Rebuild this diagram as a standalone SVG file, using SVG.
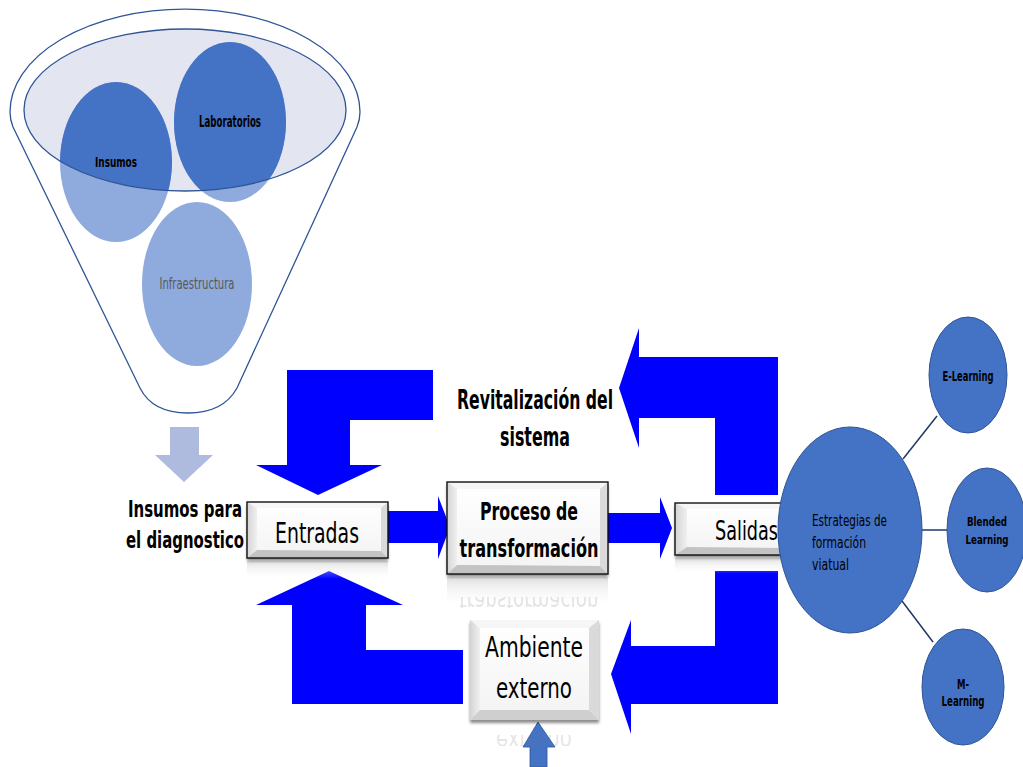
<svg xmlns="http://www.w3.org/2000/svg" width="1023" height="767" viewBox="0 0 1023 767">
  <style>
    .lbl { font-family: "Liberation Sans Narrow", "DejaVu Sans Condensed", "Liberation Sans", sans-serif; fill: #000; }
    .b { font-weight: bold; }
    .big { fill: #0000ff; }
    .dot { fill: #4472c4; stroke: #2f5597; stroke-width: 1; }
    .light { fill: #8faadc; }
    .dark { fill: #4472c4; }
    .bev-t { fill: #f6f6f6; }
    .bev-l { fill: url(#bevL); }
    .bev-r { fill: #dadada; }
    .bev-b { fill: #c3c3c3; }
    .face { fill: url(#face); }
    .edge { fill: none; stroke: #111; stroke-width: 1.4; }
    .refl { fill: url(#refl); }
    .link { stroke: #1f3864; stroke-width: 1.5; fill: none; }
  </style>
  <defs>
    <linearGradient id="bevL" x1="0" y1="0" x2="1" y2="0">
      <stop offset="0" stop-color="#d4d4d4"/>
      <stop offset="1" stop-color="#f0f0f0"/>
    </linearGradient>
    <linearGradient id="face" x1="0" y1="0" x2="0" y2="1">
      <stop offset="0" stop-color="#ffffff"/>
      <stop offset="1" stop-color="#f3f3f3"/>
    </linearGradient>
    <linearGradient id="refl" x1="0" y1="0" x2="0" y2="1">
      <stop offset="0" stop-color="#d0d0d0" stop-opacity="0.7"/>
      <stop offset="1" stop-color="#ffffff" stop-opacity="0"/>
    </linearGradient>
    <filter id="shadow" x="-10%" y="-10%" width="120%" height="130%">
      <feDropShadow dx="0" dy="3" stdDeviation="1.5" flood-color="#000" flood-opacity="0.45"/>
    </filter>
    <clipPath id="mouth">
      <ellipse cx="185" cy="110" rx="161" ry="81"/>
    </clipPath>
    <clipPath id="reflBand1"><rect x="447" y="597" width="161" height="11"/></clipPath>
    <clipPath id="reflBand2"><rect x="470" y="735" width="129" height="11"/></clipPath>
  </defs>

  <!-- Funnel with resources -->
  <g id="funnel">
    <path d="M10,112 A175,103 0 0 1 360,112 C360,118 359,122 357,127 L237,388 C226,408 206,413 188,413 C170,413 150,408 140,388 L13,127 C11,122 10,118 10,112 Z" fill="#fff" stroke="#2f5597" stroke-width="1.3"/>
    <ellipse cx="185" cy="110" rx="161" ry="81" fill="#e3e6f1"/>
    <ellipse class="light" cx="116" cy="162" rx="56" ry="80"/>
    <ellipse class="light" cx="230" cy="122" rx="56" ry="80"/>
    <g clip-path="url(#mouth)">
      <ellipse class="dark" cx="116" cy="162" rx="56" ry="80"/>
      <ellipse class="dark" cx="230" cy="122" rx="56" ry="80"/>
    </g>
    <ellipse cx="185" cy="110" rx="161" ry="81" fill="none" stroke="#2f5597" stroke-width="1.3"/>
    <ellipse class="light" cx="197" cy="284" rx="55" ry="82"/>
  </g>
  <g id="insumos">
    <text class="lbl b" x="116" y="167" font-size="14" text-anchor="middle" textLength="42" lengthAdjust="spacingAndGlyphs">Insumos</text>
  </g>
  <g id="laboratorios">
    <text class="lbl b" x="230" y="127" font-size="15" text-anchor="middle" textLength="62" lengthAdjust="spacingAndGlyphs">Laboratorios</text>
  </g>
  <g id="infraestructura">
    <text class="lbl" x="197" y="289" font-size="15" text-anchor="middle" textLength="75" lengthAdjust="spacingAndGlyphs" style="fill:#595959">Infraestructura</text>
  </g>

  <!-- Connectors: block arrows and links -->
  <g id="connectors">
    <polygon points="170,427 199,427 199,455 213,455 184,482 155,455 170,455" fill="#aebbdf"/>
    <polygon class="big" points="287,370 433,370 433,420 350,420 350,465 382,465 318,495 256,465 287,465"/>
    <polygon class="big" points="619,388 639,328 639,357 778,357 778,495 715,495 715,418 639,418 639,448"/>
    <polygon class="big" points="611,674 631,620 631,646 715,646 715,571 778,571 778,704 631,704 631,734"/>
    <polygon class="big" points="329,571 403,605 366,605 366,650 463,650 463,704 292,704 292,605 256,605"/>
    <polygon class="big" points="388,511 438,511 438,496 450,527 438,559 438,543 388,543"/>
    <polygon class="big" points="607,513 660,513 660,497 672,528 660,559 660,543 607,543"/>
    <polygon points="530,767 530,747 523,747 538,722 555,747 547,747 547,767" fill="#4472c4" stroke="#2f5597" stroke-width="0.8"/>
    <line class="link" x1="903" y1="459" x2="937" y2="416"/>
    <line class="link" x1="921" y1="530" x2="950" y2="530"/>
    <line class="link" x1="902" y1="601" x2="933" y2="642"/>
  </g>

  <g id="insumos-diagnostico">
    <text class="lbl b" x="242" y="517" font-size="23" text-anchor="end" textLength="114" lengthAdjust="spacingAndGlyphs">Insumos para</text>
    <text class="lbl b" x="244" y="548" font-size="23" text-anchor="end" textLength="118" lengthAdjust="spacingAndGlyphs">el diagnostico</text>
  </g>

  <g id="revitalizacion">
    <text class="lbl b" x="457" y="409" font-size="26" textLength="156" lengthAdjust="spacingAndGlyphs">Revitalización del</text>
    <text class="lbl b" x="500" y="446" font-size="26" textLength="70" lengthAdjust="spacingAndGlyphs">sistema</text>
  </g>

  <!-- Entradas -->
  <g id="entradas">
    <rect class="refl" x="247" y="561" width="141" height="18"/>
    <g filter="url(#shadow)">
      <rect class="face" x="247" y="502" width="141" height="56"/>
    </g>
    <polygon class="bev-t" points="247,502 388,502 381,508 254,508"/>
    <polygon class="bev-l" points="247,502 257,508 257,550 247,558"/>
    <polygon class="bev-r" points="388,502 381,508 381,551 388,558"/>
    <polygon class="bev-b" points="247,558 257,550 381,551 388,558"/>
    <rect class="edge" x="247" y="502" width="141" height="56"/>
    <text class="lbl" x="317" y="543" font-size="29" text-anchor="middle" textLength="84" lengthAdjust="spacingAndGlyphs">Entradas</text>
  </g>

  <!-- Proceso de transformacion -->
  <g id="proceso">
    <rect class="refl" x="447" y="577" width="161" height="30"/>
    <g clip-path="url(#reflBand1)" opacity="0.2">
      <text class="lbl" x="529" y="592" font-size="26" text-anchor="middle" textLength="139" lengthAdjust="spacingAndGlyphs" transform="matrix(1,0,0,-1,0,1184)" style="fill:#7a7a7a">transformación</text>
    </g>
    <g filter="url(#shadow)">
      <rect class="face" x="447" y="482" width="161" height="92"/>
    </g>
    <polygon class="bev-t" points="447,482 608,482 600,489 455,489"/>
    <polygon class="bev-l" points="447,482 457,489 457,565 447,574"/>
    <polygon class="bev-r" points="608,482 600,489 600,566 608,574"/>
    <polygon class="bev-b" points="447,574 457,565 600,566 608,574"/>
    <rect class="edge" x="447" y="482" width="161" height="92"/>
    <text class="lbl b" x="529" y="520" font-size="25" text-anchor="middle" textLength="98" lengthAdjust="spacingAndGlyphs">Proceso de</text>
    <text class="lbl b" x="529" y="557" font-size="25" text-anchor="middle" textLength="139" lengthAdjust="spacingAndGlyphs">transformación</text>
  </g>

  <!-- Salidas -->
  <g id="salidas">
    <rect class="refl" x="675" y="558" width="115" height="16"/>
    <g filter="url(#shadow)">
      <rect class="face" x="675" y="503" width="115" height="52"/>
    </g>
    <polygon class="bev-t" points="675,503 790,503 783,509 682,509"/>
    <polygon class="bev-l" points="675,503 687,509 687,547 675,555"/>
    <polygon class="bev-b" points="675,555 687,547 783,548 790,555"/>
    <rect class="edge" x="675" y="503" width="115" height="52"/>
    <text class="lbl" x="715" y="540" font-size="27" textLength="63" lengthAdjust="spacingAndGlyphs">Salidas</text>
  </g>

  <!-- Ambiente externo -->
  <g id="ambiente">
    <g clip-path="url(#reflBand2)" opacity="0.18">
      <text class="lbl" x="534" y="731" font-size="28" text-anchor="middle" textLength="76" lengthAdjust="spacingAndGlyphs" transform="matrix(1,0,0,-1,0,1462)" style="fill:#7a7a7a">externo</text>
    </g>
    <g filter="url(#shadow)">
      <rect class="face" x="470" y="620" width="129" height="100"/>
    </g>
    <polygon class="bev-t" points="470,620 599,620 589,628 480,628"/>
    <polygon class="bev-l" points="470,620 480,628 480,710 470,720"/>
    <polygon class="bev-r" points="599,620 589,628 589,710 599,720"/>
    <polygon class="bev-b" points="470,720 480,710 589,710 599,720" style="fill:#cfcfcf"/>
    <text class="lbl" x="534" y="657" font-size="29" text-anchor="middle" textLength="98" lengthAdjust="spacingAndGlyphs">Ambiente</text>
    <text class="lbl" x="534" y="698" font-size="29" text-anchor="middle" textLength="76" lengthAdjust="spacingAndGlyphs">externo</text>
  </g>

  <!-- Strategy cluster -->
  <g id="estrategias">
    <ellipse class="dot" cx="850" cy="530" rx="72" ry="103"/>
    <text class="lbl" x="812" y="526" font-size="15" textLength="75" lengthAdjust="spacingAndGlyphs">Estrategias de</text>
    <text class="lbl" x="812" y="548" font-size="15" textLength="54" lengthAdjust="spacingAndGlyphs">formación</text>
    <text class="lbl" x="812" y="570" font-size="15" textLength="37" lengthAdjust="spacingAndGlyphs">viatual</text>
  </g>
  <g id="e-learning">
    <ellipse class="dot" cx="968" cy="375" rx="39" ry="58"/>
    <text class="lbl b" x="968" y="381" font-size="14" text-anchor="middle" textLength="51" lengthAdjust="spacingAndGlyphs">E-Learning</text>
  </g>
  <g id="blended-learning">
    <ellipse class="dot" cx="987" cy="530" rx="40" ry="62"/>
    <text class="lbl b" x="987" y="526" font-size="13" text-anchor="middle" textLength="40" lengthAdjust="spacingAndGlyphs">Blended</text>
    <text class="lbl b" x="987" y="544" font-size="13" text-anchor="middle" textLength="43" lengthAdjust="spacingAndGlyphs">Learning</text>
  </g>
  <g id="m-learning">
    <ellipse class="dot" cx="963" cy="687" rx="41" ry="58"/>
    <text class="lbl b" x="963" y="689" font-size="14" text-anchor="middle" textLength="12" lengthAdjust="spacingAndGlyphs">M-</text>
    <text class="lbl b" x="963" y="706" font-size="14" text-anchor="middle" textLength="43" lengthAdjust="spacingAndGlyphs">Learning</text>
  </g>
</svg>
